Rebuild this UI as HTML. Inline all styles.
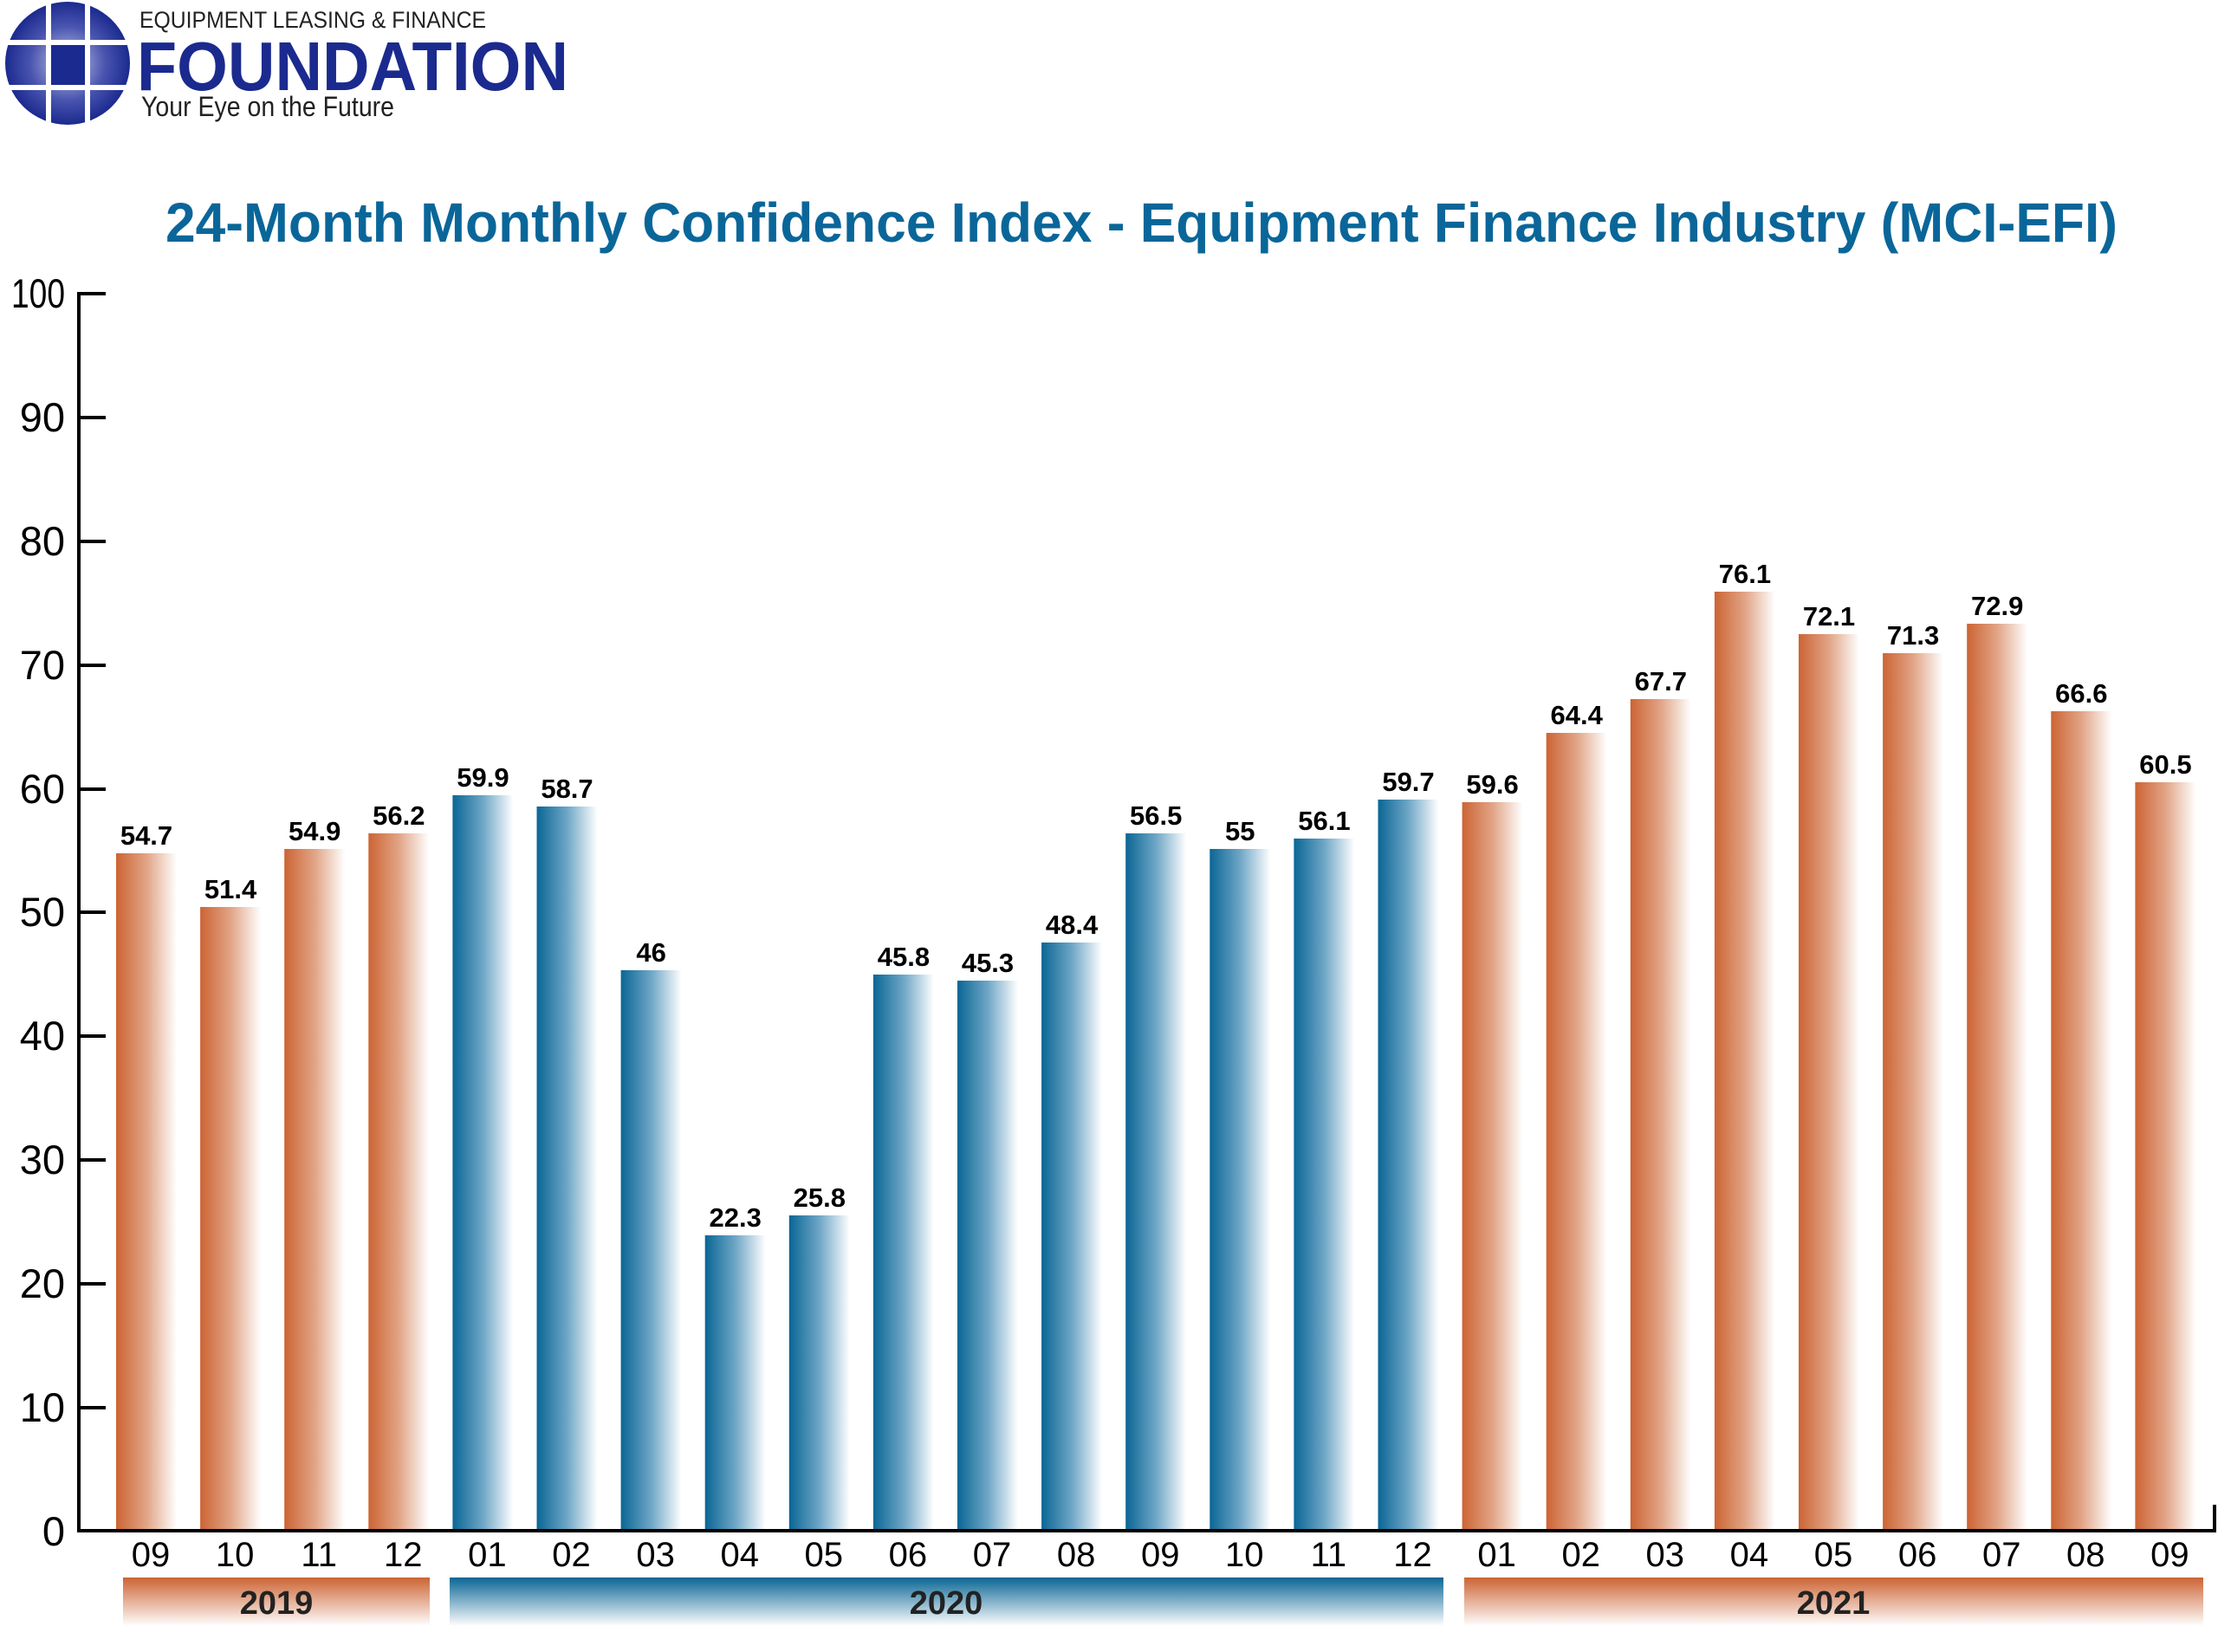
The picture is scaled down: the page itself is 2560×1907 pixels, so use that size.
<!DOCTYPE html>
<html><head><meta charset="utf-8"><style>
html,body{margin:0;padding:0;background:#fff}
svg{display:block}
</style></head><body>
<svg width="2560" height="1907" viewBox="0 0 2560 1907" xmlns="http://www.w3.org/2000/svg">
<defs>
<linearGradient id="go" x1="0" y1="0" x2="1" y2="0">
<stop offset="0" stop-color="#cc6434"/><stop offset="0.5" stop-color="#e1a486"/><stop offset="1" stop-color="#ffffff"/></linearGradient>
<linearGradient id="gb" x1="0" y1="0" x2="1" y2="0">
<stop offset="0" stop-color="#0a6695"/><stop offset="0.5" stop-color="#6ea6c6"/><stop offset="1" stop-color="#ffffff"/></linearGradient>
<linearGradient id="vo" x1="0" y1="0" x2="0" y2="1">
<stop offset="0" stop-color="#cc6434"/><stop offset="1" stop-color="#ffffff"/></linearGradient>
<linearGradient id="vb" x1="0" y1="0" x2="0" y2="1">
<stop offset="0" stop-color="#0a6695"/><stop offset="1" stop-color="#ffffff"/></linearGradient>
<radialGradient id="gl" cx="0.5" cy="0.5" r="0.5">
<stop offset="0" stop-color="#c8cbe6"/><stop offset="0.6" stop-color="#4a55b0"/><stop offset="1" stop-color="#1b2a8e"/></radialGradient>
</defs>
<ellipse cx="78" cy="73" rx="72" ry="71" fill="url(#gl)"/>
<rect x="53" y="0" width="6" height="150" fill="#fff"/>
<rect x="98" y="0" width="6" height="150" fill="#fff"/>
<rect x="0" y="46" width="160" height="6" fill="#fff"/>
<rect x="0" y="98" width="160" height="6" fill="#fff"/>
<rect x="59" y="52" width="39" height="46" fill="#1b2a8e"/>
<text x="161" y="32" font-family="Liberation Sans, sans-serif" font-size="27" fill="#222" textLength="400" lengthAdjust="spacingAndGlyphs">EQUIPMENT LEASING &amp; FINANCE</text>
<text x="158" y="104" font-family="Liberation Sans, sans-serif" font-size="80" font-weight="bold" fill="#1b2a8e" textLength="498" lengthAdjust="spacingAndGlyphs">FOUNDATION</text>
<text x="163" y="134" font-family="Liberation Sans, sans-serif" font-size="32" fill="#222" textLength="292" lengthAdjust="spacingAndGlyphs">Your Eye on the Future</text>
<text x="191" y="279" font-family="Liberation Sans, sans-serif" font-size="64" font-weight="bold" fill="#0a6699" textLength="2253" lengthAdjust="spacingAndGlyphs">24-Month Monthly Confidence Index - Equipment Finance Industry (MCI-EFI)</text>

<g font-family="Liberation Sans, sans-serif">
<g transform="translate(134,0)"><rect x="0" y="985" width="70" height="780" fill="url(#go)"/><text x="35" y="975" font-size="31" font-weight="bold" text-anchor="middle">54.7</text><text x="40" y="1808" font-size="40" text-anchor="middle">09</text></g>
<g transform="translate(231.1,0)"><rect x="0" y="1047" width="70" height="718" fill="url(#go)"/><text x="35" y="1037" font-size="31" font-weight="bold" text-anchor="middle">51.4</text><text x="40" y="1808" font-size="40" text-anchor="middle">10</text></g>
<g transform="translate(328.2,0)"><rect x="0" y="980" width="70" height="785" fill="url(#go)"/><text x="35" y="970" font-size="31" font-weight="bold" text-anchor="middle">54.9</text><text x="40" y="1808" font-size="40" text-anchor="middle">11</text></g>
<g transform="translate(425.3,0)"><rect x="0" y="962" width="70" height="803" fill="url(#go)"/><text x="35" y="952" font-size="31" font-weight="bold" text-anchor="middle">56.2</text><text x="40" y="1808" font-size="40" text-anchor="middle">12</text></g>
<g transform="translate(522.4,0)"><rect x="0" y="918" width="70" height="847" fill="url(#gb)"/><text x="35" y="908" font-size="31" font-weight="bold" text-anchor="middle">59.9</text><text x="40" y="1808" font-size="40" text-anchor="middle">01</text></g>
<g transform="translate(619.5,0)"><rect x="0" y="931" width="70" height="834" fill="url(#gb)"/><text x="35" y="921" font-size="31" font-weight="bold" text-anchor="middle">58.7</text><text x="40" y="1808" font-size="40" text-anchor="middle">02</text></g>
<g transform="translate(716.6,0)"><rect x="0" y="1120" width="70" height="645" fill="url(#gb)"/><text x="35" y="1110" font-size="31" font-weight="bold" text-anchor="middle">46</text><text x="40" y="1808" font-size="40" text-anchor="middle">03</text></g>
<g transform="translate(813.7,0)"><rect x="0" y="1426" width="70" height="339" fill="url(#gb)"/><text x="35" y="1416" font-size="31" font-weight="bold" text-anchor="middle">22.3</text><text x="40" y="1808" font-size="40" text-anchor="middle">04</text></g>
<g transform="translate(910.8,0)"><rect x="0" y="1403" width="70" height="362" fill="url(#gb)"/><text x="35" y="1393" font-size="31" font-weight="bold" text-anchor="middle">25.8</text><text x="40" y="1808" font-size="40" text-anchor="middle">05</text></g>
<g transform="translate(1007.9,0)"><rect x="0" y="1125" width="70" height="640" fill="url(#gb)"/><text x="35" y="1115" font-size="31" font-weight="bold" text-anchor="middle">45.8</text><text x="40" y="1808" font-size="40" text-anchor="middle">06</text></g>
<g transform="translate(1105,0)"><rect x="0" y="1132" width="70" height="633" fill="url(#gb)"/><text x="35" y="1122" font-size="31" font-weight="bold" text-anchor="middle">45.3</text><text x="40" y="1808" font-size="40" text-anchor="middle">07</text></g>
<g transform="translate(1202.1,0)"><rect x="0" y="1088" width="70" height="677" fill="url(#gb)"/><text x="35" y="1078" font-size="31" font-weight="bold" text-anchor="middle">48.4</text><text x="40" y="1808" font-size="40" text-anchor="middle">08</text></g>
<g transform="translate(1299.2,0)"><rect x="0" y="962" width="70" height="803" fill="url(#gb)"/><text x="35" y="952" font-size="31" font-weight="bold" text-anchor="middle">56.5</text><text x="40" y="1808" font-size="40" text-anchor="middle">09</text></g>
<g transform="translate(1396.3,0)"><rect x="0" y="980" width="70" height="785" fill="url(#gb)"/><text x="35" y="970" font-size="31" font-weight="bold" text-anchor="middle">55</text><text x="40" y="1808" font-size="40" text-anchor="middle">10</text></g>
<g transform="translate(1493.4,0)"><rect x="0" y="968" width="70" height="797" fill="url(#gb)"/><text x="35" y="958" font-size="31" font-weight="bold" text-anchor="middle">56.1</text><text x="40" y="1808" font-size="40" text-anchor="middle">11</text></g>
<g transform="translate(1590.5,0)"><rect x="0" y="923" width="70" height="842" fill="url(#gb)"/><text x="35" y="913" font-size="31" font-weight="bold" text-anchor="middle">59.7</text><text x="40" y="1808" font-size="40" text-anchor="middle">12</text></g>
<g transform="translate(1687.6,0)"><rect x="0" y="926" width="70" height="839" fill="url(#go)"/><text x="35" y="916" font-size="31" font-weight="bold" text-anchor="middle">59.6</text><text x="40" y="1808" font-size="40" text-anchor="middle">01</text></g>
<g transform="translate(1784.7,0)"><rect x="0" y="846" width="70" height="919" fill="url(#go)"/><text x="35" y="836" font-size="31" font-weight="bold" text-anchor="middle">64.4</text><text x="40" y="1808" font-size="40" text-anchor="middle">02</text></g>
<g transform="translate(1881.8,0)"><rect x="0" y="807" width="70" height="958" fill="url(#go)"/><text x="35" y="797" font-size="31" font-weight="bold" text-anchor="middle">67.7</text><text x="40" y="1808" font-size="40" text-anchor="middle">03</text></g>
<g transform="translate(1978.9,0)"><rect x="0" y="683" width="70" height="1082" fill="url(#go)"/><text x="35" y="673" font-size="31" font-weight="bold" text-anchor="middle">76.1</text><text x="40" y="1808" font-size="40" text-anchor="middle">04</text></g>
<g transform="translate(2076,0)"><rect x="0" y="732" width="70" height="1033" fill="url(#go)"/><text x="35" y="722" font-size="31" font-weight="bold" text-anchor="middle">72.1</text><text x="40" y="1808" font-size="40" text-anchor="middle">05</text></g>
<g transform="translate(2173.1,0)"><rect x="0" y="754" width="70" height="1011" fill="url(#go)"/><text x="35" y="744" font-size="31" font-weight="bold" text-anchor="middle">71.3</text><text x="40" y="1808" font-size="40" text-anchor="middle">06</text></g>
<g transform="translate(2270.2,0)"><rect x="0" y="720" width="70" height="1045" fill="url(#go)"/><text x="35" y="710" font-size="31" font-weight="bold" text-anchor="middle">72.9</text><text x="40" y="1808" font-size="40" text-anchor="middle">07</text></g>
<g transform="translate(2367.3,0)"><rect x="0" y="821" width="70" height="944" fill="url(#go)"/><text x="35" y="811" font-size="31" font-weight="bold" text-anchor="middle">66.6</text><text x="40" y="1808" font-size="40" text-anchor="middle">08</text></g>
<g transform="translate(2464.4,0)"><rect x="0" y="903" width="70" height="862" fill="url(#go)"/><text x="35" y="893" font-size="31" font-weight="bold" text-anchor="middle">60.5</text><text x="40" y="1808" font-size="40" text-anchor="middle">09</text></g>
</g>

<g stroke="#000" stroke-width="4" fill="none">
<line x1="91" y1="337" x2="91" y2="1769"/>
<line x1="89" y1="1767" x2="2558" y2="1767"/>
<line x1="2556" y1="1737" x2="2556" y2="1769"/>
<line x1="91" y1="339" x2="122" y2="339"/><line x1="91" y1="482" x2="122" y2="482"/><line x1="91" y1="625" x2="122" y2="625"/><line x1="91" y1="768" x2="122" y2="768"/><line x1="91" y1="911" x2="122" y2="911"/><line x1="91" y1="1053" x2="122" y2="1053"/><line x1="91" y1="1196" x2="122" y2="1196"/><line x1="91" y1="1339" x2="122" y2="1339"/><line x1="91" y1="1482" x2="122" y2="1482"/><line x1="91" y1="1625" x2="122" y2="1625"/>
</g>
<g font-family="Liberation Sans, sans-serif" font-size="47" fill="#000" text-anchor="end">
<text x="75" y="355" textLength="62" lengthAdjust="spacingAndGlyphs">100</text>
<text x="75" y="498">90</text><text x="75" y="641">80</text><text x="75" y="784">70</text><text x="75" y="927">60</text><text x="75" y="1069">50</text><text x="75" y="1212">40</text><text x="75" y="1355">30</text><text x="75" y="1498">20</text><text x="75" y="1641">10</text><text x="75" y="1784">0</text>
</g>

<rect x="142" y="1821" width="354" height="56" fill="url(#vo)"/>
<rect x="519" y="1821" width="1147" height="56" fill="url(#vb)"/>
<rect x="1690" y="1821" width="853" height="56" fill="url(#vo)"/>
<g font-family="Liberation Sans, sans-serif" font-size="38" font-weight="bold" fill="#222" text-anchor="middle">
<text x="319" y="1863">2019</text><text x="1092" y="1863">2020</text><text x="2116" y="1863">2021</text>
</g>
</svg>
</body></html>
